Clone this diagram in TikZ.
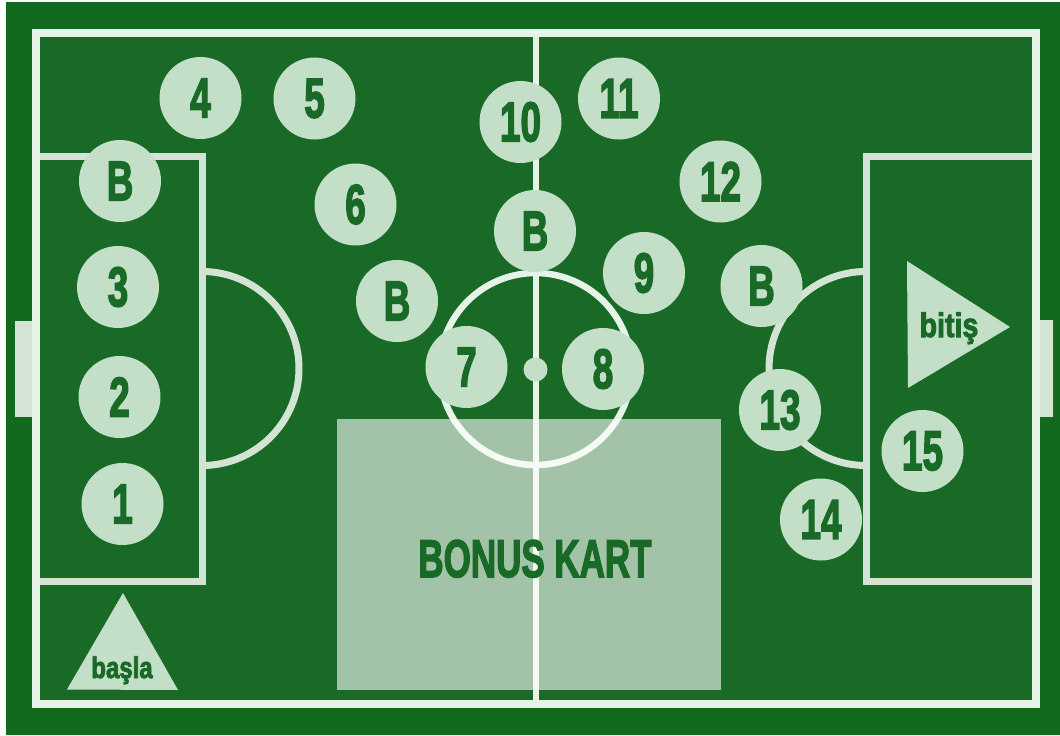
\documentclass[tikz,border=0pt]{standalone}
\usepackage{fontspec}
\setmainfont{Liberation Sans}[BoldFeatures={FakeBold=3}]
\definecolor{outerg}{HTML}{126A1F}
\definecolor{innerg}{HTML}{1A6A27}
\definecolor{fieldl}{HTML}{E6F4E8}
\definecolor{boxl}{HTML}{D3E4D5}
\definecolor{spotc}{HTML}{C3DFC7}
\definecolor{textg}{HTML}{1A6A27}
\newcommand{\cnd}[1]{\scalebox{0.66}[1]{#1}}
\begin{document}
\begin{tikzpicture}[x=1pt,y=-1pt,
  spot/.style={circle,fill=spotc,minimum size=82pt,inner sep=0pt,
    font=\bfseries\fontsize{56}{56}\selectfont,text=textg},
  fieldline/.style={draw=fieldl,line width=8pt},
  boxline/.style={draw=boxl,line width=7pt},
  lbl/.style={anchor=base,text=textg,inner sep=0pt}]
\useasboundingbox (0,0) rectangle (1060,736);
\fill[white] (0,0) rectangle (1060,736);
\fill[outerg] (6,2) rectangle (1060,735);
% goal bars
\fill[boxl] (15,321) rectangle (36,417);
\fill[boxl] (1036,320) rectangle (1053,417);
% pitch
\fill[innerg] (36,33) rectangle (1036,704);
% penalty boxes
\draw[boxline] (36,156.5) -| (202,581) -- (36,581);
\draw[boxline] (1036,156.5) -| (866,581) -- (1036,581);
\begin{scope}
  \clip (202,33) rectangle (420,704);
  \draw[boxline] (202,368.5) circle[radius=97];
\end{scope}
\begin{scope}
  \clip (866,33) rectangle (640,704);
  \draw[boxline] (866,368.5) circle[radius=97];
\end{scope}
% centre
\draw[fieldline,line width=6pt] (535.5,33) -- (535.5,704);
\draw[fieldline,line width=6.5pt] (535.5,369) circle[radius=96];
\fill[spotc] (535.5,369.5) circle[radius=12];
% outline
\draw[fieldline] (36,33) rectangle (1036,704);
% bonus card
\fill[white,opacity=0.6] (337,419) rectangle (720.5,690);
\node[lbl,font=\bfseries\fontsize{53}{53}\selectfont] (bonus) at (535,577) {\cnd{BONUS KART}};
% start / finish triangles
\fill[spotc] (123,593) -- (67,689.5) -- (178,690) -- cycle;
\node[lbl,font=\bfseries\fontsize{30}{30}\selectfont] (basla) at (122,678) {\scalebox{0.8}[1]{başla}};
\fill[spotc] (907,261) -- (1010,327) -- (908,388) -- cycle;
\node[lbl,font=\bfseries\fontsize{34}{34}\selectfont] (bitis) at (949,337) {\scalebox{0.84}[1]{bitiş}};
% spots
\node[spot] (n1) at (122.5,504) {\cnd{1}};
\node[spot] (n2) at (119.5,397) {\cnd{2}};
\node[spot] (n3) at (118,287) {\cnd{3}};
\node[spot] (n4) at (200.5,98) {\cnd{4}};
\node[spot] (n5) at (314.5,98.5) {\cnd{5}};
\node[spot] (n6) at (355.5,204.5) {\cnd{6}};
\node[spot] (n7) at (466.5,367) {\cnd{7}};
\node[spot] (n8) at (603,369) {\cnd{8}};
\node[spot] (n9) at (644,273) {\cnd{9}};
\node[spot] (n10) at (520.5,122) {\cnd{10}};
\node[spot] (n11) at (619,98.5) {\cnd{11}};
\node[spot] (n12) at (720.5,181.5) {\cnd{12}};
\node[spot] (n13) at (780,410) {\cnd{13}};
\node[spot] (n14) at (821,519.5) {\cnd{14}};
\node[spot] (n15) at (922.5,451) {\cnd{15}};
\node[spot] (b1) at (120,181) {\cnd{B}};
\node[spot] (b2) at (397,301) {\cnd{B}};
\node[spot] (b3) at (535,231) {\cnd{B}};
\node[spot] (b4) at (761.5,286) {\cnd{B}};
\end{tikzpicture}
\end{document}
